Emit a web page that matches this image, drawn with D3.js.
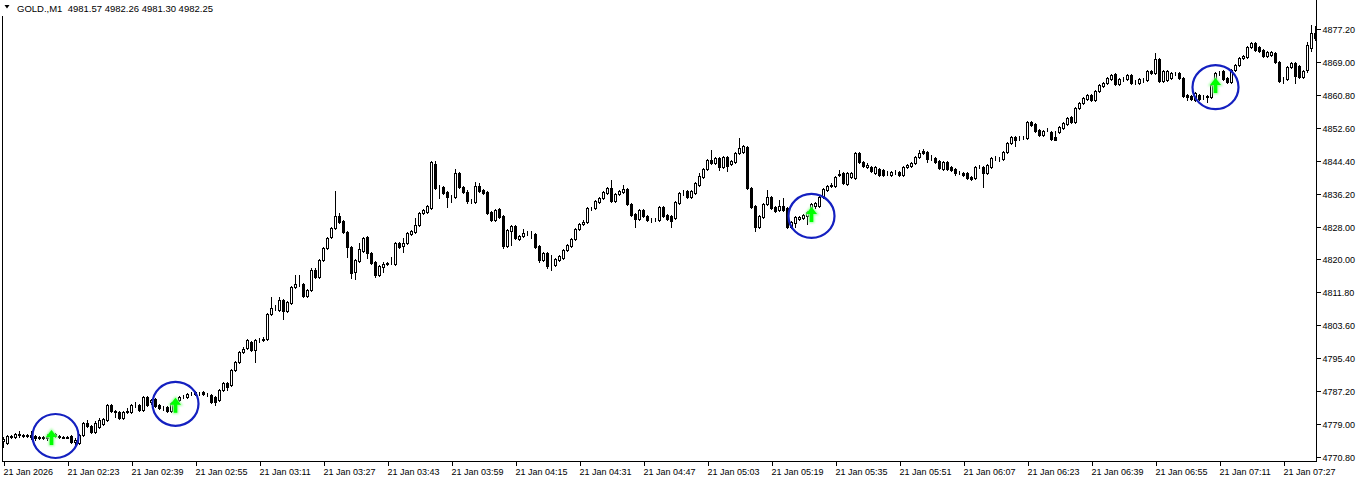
<!DOCTYPE html>
<html>
<head>
<meta charset="utf-8">
<script src="https://cdn.jsdelivr.net/npm/d3@7"></script>
<style>
  html, body { margin: 0; padding: 0; background: #fff; }
  svg { display: block; }
  text { font-family: "Liberation Sans", Arial, sans-serif; font-size: 9px; fill: #000; }
</style>
</head>
<body>
<svg id="chart" width="1362" height="481"></svg>
<script>
// header of the chart window
const symbolTitle = "GOLD.,M1";
const lastQuote = ["4981.57", "4982.26", "4981.30", "4982.25"];

// one label every 16 bars, starting at the first bar (02:07)
const timeLabels = ["21 Jan 2026", "21 Jan 02:23", "21 Jan 02:39", "21 Jan 02:55", "21 Jan 03:11",
  "21 Jan 03:27", "21 Jan 03:43", "21 Jan 03:59", "21 Jan 04:15", "21 Jan 04:31", "21 Jan 04:47",
  "21 Jan 05:03", "21 Jan 05:19", "21 Jan 05:35", "21 Jan 05:51", "21 Jan 06:07", "21 Jan 06:23",
  "21 Jan 06:39", "21 Jan 06:55", "21 Jan 07:11", "21 Jan 07:27"];

const priceTicks = [4877.20, 4869.00, 4860.80, 4852.60, 4844.40, 4836.20, 4828.00,
  4820.00, 4811.80, 4803.60, 4795.40, 4787.20, 4779.00, 4770.80];

// M1 bars, 02:07 .. 07:35
const opens = [
  4774.9,4774.4,4776.1,4775.9,4776.6,4776.4,4776.1,4776.4,4776.1,4775.6,
  4775.9,4775.6,4775.9,4776.6,4776.1,4775.9,4775.6,4776.1,4774.6,4774.4,
  4776.4,4779.4,4778.6,4777.1,4778.4,4779.1,4780.1,4783.9,4782.3,4782.1,
  4780.6,4782.1,4782.1,4783.9,4783.9,4782.6,4785.8,4784.6,4785.3,4783.9,
  4783.1,4783.3,4782.3,4784.3,4785.1,4785.8,4785.8,4786.6,4787.1,4786.8,
  4787.1,4786.6,4786.3,4785.8,4785.1,4787.5,4789.3,4788.8,4792.5,4794.5,
  4797.0,4798.0,4799.5,4797.5,4800.0,4800.0,4800.2,4806.4,4807.9,4807.4,
  4809.9,4807.2,4809.2,4813.1,4813.9,4813.9,4810.9,4812.4,4817.4,4815.6,
  4819.8,4822.8,
  4825.6,4827.8,4830.8,4829.5,4826.8,4823.1,4816.9,4819.6,
  4822.1,4825.6,4821.6,4819.3,4816.1,4818.1,4818.8,4819.1,4818.8,4824.1,
  4823.3,4824.1,4826.3,4826.8,4828.5,4831.5,4831.8,4832.8,4843.7,4838.0,
  4838.0,4836.8,4835.5,4835.5,4841.5,4838.0,4836.8,4834.5,4834.3,4838.2,
  4837.2,4836.8,4831.8,4829.8,4832.5,4830.8,4823.3,4827.1,4828.3,4825.1,
  4825.8,4826.6,4826.3,4826.3,4823.3,4819.8,4821.6,4818.6,4818.6,4819.8,
  4820.3,4822.3,4823.3,4825.1,4827.6,4828.8,4829.3,4832.8,4832.8,4834.3,
  4835.3,4836.5,4837.7,4834.5,4836.3,4836.8,4837.5,4833.8,4831.3,4830.0,
  4832.3,4830.8,4830.0,4830.0,4829.8,
  4833.0,4831.0,4830.8,4830.3,4834.0,
  4836.5,4837.0,4835.5,4836.5,4838.5,4840.5,4842.5,4844.7,4844.0,4845.2,
  4843.0,4845.5,4843.7,4844.2,4846.5,4846.7,4847.9,4837.7,4833.3,4828.1,
  4830.5,4833.8,4835.5,4833.0,4832.3,4833.3,4832.8,4828.1,4829.0,4830.0,
  4830.3,4830.8,4831.5,4833.3,4833.3,4835.5,4837.2,4838.2,4838.2,4841.0,
  4841.5,4838.7,4840.5,4840.2,4846.5,4844.2,4843.0,4843.0,4841.5,4842.5,
  4842.3,4841.5,4841.0,4841.7,4841.7,4841.0,4843.0,4843.2,4844.0,4845.5,
  4847.0,4846.7,4845.2,4845.2,4844.5,4842.5,4844.2,4843.0,4842.5,4841.5,
  4841.5,4841.5,4840.5,4840.2,4843.0,4843.0,4841.5,
  4843.0,4845.2,4845.0,
  4845.0,4846.7,4848.9,4850.4,4850.2,4850.2,4850.2,4854.1,4853.6,4852.2,
  4850.9,4852.2,4851.7,4850.4,4851.7,4852.6,4853.6,4855.4,4854.1,4857.6,
  4858.9,4859.9,4860.9,4859.6,4861.9,4863.1,4863.8,4864.8,4866.1,4863.6,
  4864.8,4864.8,4865.8,4864.1,4863.8,4864.6,4864.6,4866.8,4866.3,4869.8,
  4864.3,4864.6,4865.1,4866.3,4866.3,4865.1,4860.9,4860.6,4859.6,4860.9,
  4860.4,4860.6,4860.4,4863.3,4866.3,4866.8,4865.1,4864.1,4867.1,4868.3,
  4870.1,4870.3,4872.8,4873.8,4872.8,4872.0,4870.6,4870.8,4871.3,4869.1,
  4864.8,4864.8,4867.8,4868.8,4868.1,4865.3,4867.1,4872.5,4876.3
];
const highs = [
  4775.9,4776.4,4776.4,4776.9,4777.4,4776.6,4776.6,4777.4,4776.4,4776.1,
  4776.1,4776.6,4776.6,4776.9,4776.4,4776.1,4776.1,4776.4,4775.6,4776.6,
  4779.6,4780.1,4778.9,4779.9,4780.6,4780.6,4784.1,4784.1,4782.6,4782.3,
  4782.3,4783.1,4784.1,4784.6,4784.1,4786.1,4786.1,4785.3,4785.6,4784.1,
  4783.6,4783.6,4784.6,4785.3,4786.1,4786.3,4786.8,4787.1,4787.3,4787.1,
  4787.3,4786.8,4786.6,4786.1,4787.8,4789.5,4789.5,4792.8,4794.7,4797.2,
  4798.2,4800.2,4799.7,4800.2,4800.5,4800.7,4806.7,4810.6,4808.7,4810.6,
  4810.1,4809.7,4813.4,4816.1,4816.1,4814.1,4812.6,4817.8,4817.8,4820.1,
  4823.1,4825.6,
  4828.1,4837.0,4831.5,4829.8,4827.1,4823.3,4820.1,4824.1,
  4825.6,4825.8,4821.8,4819.6,4818.6,4819.3,4819.3,4820.6,4824.3,4824.3,
  4825.3,4826.8,4827.3,4830.3,4831.8,4832.5,4833.5,4844.5,4844.5,4838.5,
  4838.2,4837.0,4836.0,4842.5,4841.7,4838.2,4837.2,4835.0,4839.2,4839.0,
  4837.5,4837.0,4832.0,4832.5,4832.8,4831.0,4827.6,4828.5,4828.5,4826.1,
  4827.6,4827.1,4827.1,4826.6,4823.6,4821.8,4821.8,4821.1,4820.3,4821.1,
  4822.6,4823.8,4825.3,4827.8,4829.0,4829.8,4833.0,4833.0,4834.8,4835.5,
  4837.0,4838.0,4839.7,4836.5,4837.2,4838.5,4837.7,4834.0,4831.5,4832.5,
  4832.5,4831.0,4830.3,4830.3,4833.3,
  4833.3,4831.3,4831.0,4834.5,4836.8,
  4837.2,4837.2,4837.2,4839.2,4841.5,4842.7,4845.0,4847.2,4845.5,4845.5,
  4845.7,4845.7,4844.7,4846.7,4850.2,4848.4,4848.2,4838.0,4833.5,4831.0,
  4834.0,4837.2,4835.8,4833.3,4834.8,4835.3,4833.0,4829.5,4830.8,4830.8,
  4831.3,4832.0,4834.0,4834.3,4835.8,4837.7,4838.5,4839.0,4840.7,4842.3,
  4841.7,4841.7,4841.7,4846.7,4846.7,4844.5,4844.0,4843.2,4843.2,4842.7,
  4842.5,4842.0,4842.0,4842.3,4842.0,4843.2,4843.7,4844.2,4845.7,4847.2,
  4847.4,4847.0,4846.0,4845.5,4844.7,4844.5,4844.5,4843.2,4842.7,4842.0,
  4841.7,4841.7,4840.7,4843.2,4843.5,4843.2,4843.7,
  4845.5,4845.7,4845.5,
  4847.0,4849.2,4850.7,4850.7,4850.7,4850.7,4854.4,4854.4,4853.9,4852.4,
  4852.2,4852.6,4851.9,4851.9,4853.1,4854.1,4855.4,4855.6,4857.9,4859.1,
  4860.4,4861.1,4861.1,4862.1,4863.6,4864.1,4865.3,4866.1,4866.3,4865.1,
  4865.3,4866.1,4866.1,4864.6,4865.1,4865.1,4867.1,4867.1,4871.3,4870.1,
  4867.1,4867.1,4866.6,4866.6,4866.6,4865.3,4861.1,4860.9,4861.6,4861.1,
  4860.9,4860.9,4863.6,4866.6,4866.8,4867.1,4865.3,4867.3,4868.6,4870.3,
  4870.8,4873.0,4874.0,4874.0,4873.0,4872.3,4871.8,4871.8,4871.6,4869.3,
  4865.3,4868.1,4869.1,4869.1,4868.3,4867.1,4874.0,4878.3,4878.0
];
const lows = [
  4773.4,4774.1,4775.6,4775.6,4775.9,4775.9,4775.9,4775.4,4775.1,4775.4,
  4775.4,4775.1,4775.4,4775.9,4775.6,4775.6,4775.6,4774.4,4773.9,4774.1,
  4776.1,4778.4,4776.9,4776.9,4778.1,4778.9,4779.9,4782.1,4780.8,4780.4,
  4780.4,4781.8,4781.8,4783.3,4782.3,4782.3,4783.6,4784.1,4783.3,4782.8,
  4782.6,4782.1,4782.1,4784.1,4784.8,4785.6,4785.6,4786.3,4786.3,4786.3,
  4786.3,4786.1,4784.3,4783.9,4784.8,4787.3,4787.5,4788.5,4792.3,4794.2,
  4796.7,4797.7,4797.2,4794.5,4799.5,4799.7,4800.0,4806.2,4807.4,4807.2,
  4805.2,4807.0,4808.9,4812.9,4813.4,4810.6,4810.6,4812.1,4815.4,4815.4,
  4819.6,4822.6,
  4825.3,4827.6,4829.0,4826.6,4820.6,4815.4,4815.1,4819.3,
  4821.8,4820.3,4818.8,4815.6,4815.9,4816.9,4818.6,4818.8,4818.6,4822.8,
  4821.8,4823.8,4826.1,4826.6,4828.3,4831.3,4831.5,4832.5,4837.5,4835.3,
  4836.3,4833.0,4834.3,4835.3,4837.7,4836.5,4834.0,4834.0,4834.0,4836.8,
  4836.3,4831.3,4829.5,4829.5,4830.3,4822.8,4823.1,4823.6,4825.1,4824.8,
  4825.6,4826.1,4825.3,4822.8,4819.3,4819.6,4817.8,4817.4,4818.3,4819.6,
  4820.1,4822.1,4823.1,4824.8,4827.3,4828.5,4829.0,4832.3,4832.5,4834.0,
  4835.0,4836.3,4834.3,4834.3,4836.0,4836.5,4833.5,4830.8,4828.1,4829.8,
  4830.5,4829.5,4829.3,4829.5,4829.5,
  4830.5,4829.8,4828.1,4830.0,4833.8,
  4836.0,4835.3,4835.3,4836.3,4838.2,4840.2,4842.3,4843.7,4843.7,4842.3,
  4842.7,4842.0,4843.5,4844.0,4846.2,4846.5,4837.5,4832.8,4827.1,4827.8,
  4830.3,4833.5,4832.5,4831.8,4832.0,4832.0,4827.8,4827.8,4828.1,4829.8,
  4830.0,4828.8,4831.3,4832.8,4833.0,4835.3,4837.0,4838.0,4838.0,4840.7,
  4838.7,4838.5,4840.2,4840.0,4844.0,4843.0,4842.7,4841.7,4841.2,4840.7,
  4840.7,4841.0,4840.7,4841.2,4840.7,4840.7,4842.7,4843.0,4843.7,4845.2,
  4846.2,4844.2,4844.7,4844.0,4842.5,4842.3,4842.3,4842.0,4841.0,4841.2,
  4840.7,4840.0,4839.7,4840.0,4842.7,4838.0,4841.2,
  4842.7,4844.7,4844.5,
  4844.7,4846.5,4848.7,4848.2,4849.7,4849.9,4849.9,4853.1,4851.7,4850.7,
  4850.7,4851.9,4849.7,4849.7,4851.4,4852.4,4853.4,4853.9,4853.9,4857.4,
  4858.6,4859.6,4859.4,4859.4,4861.6,4862.8,4863.6,4864.6,4863.3,4863.3,
  4864.3,4864.6,4863.6,4863.6,4863.6,4864.1,4864.3,4866.1,4866.1,4864.1,
  4864.1,4864.3,4864.8,4865.8,4864.8,4860.4,4859.6,4859.6,4859.4,4859.6,
  4859.9,4859.1,4860.1,4863.1,4865.8,4864.6,4863.8,4863.8,4866.8,4868.1,
  4869.8,4870.1,4872.5,4871.8,4871.6,4870.3,4870.3,4870.6,4868.8,4864.1,
  4863.8,4864.6,4867.6,4863.8,4865.1,4865.1,4866.6,4871.8,4874.6
];
const closes = [
  4775.4,4776.1,4775.9,4776.6,4776.4,4776.1,4776.4,4775.9,4775.6,4775.9,
  4775.6,4775.9,4776.1,4776.1,4775.9,4775.6,4775.9,4774.6,4775.1,4776.4,
  4779.4,4778.6,4777.1,4779.4,4780.1,4780.4,4783.9,4782.3,4782.1,4780.6,
  4782.1,4782.3,4783.9,4783.9,4782.6,4785.8,4783.9,4785.1,4783.6,4783.1,
  4783.1,4782.3,4784.3,4785.1,4785.8,4785.8,4786.6,4786.6,4786.6,4786.8,
  4786.6,4786.6,4784.6,4784.6,4787.5,4789.3,4788.3,4792.5,4794.5,4797.0,
  4797.7,4800.0,4797.5,4800.0,4800.0,4800.2,4806.4,4807.9,4807.9,4809.9,
  4807.2,4809.4,4813.1,4813.9,4813.9,4810.9,4812.4,4817.4,4815.6,4819.8,
  4822.8,4825.3,
  4827.8,4830.8,4829.3,4826.8,4823.1,4816.6,4819.8,4822.6,
  4825.3,4821.6,4819.1,4816.1,4818.3,4818.8,4819.1,4819.1,4824.1,4823.1,
  4824.1,4826.6,4827.1,4828.5,4831.5,4832.3,4833.3,4844.2,4837.7,4838.0,
  4836.5,4835.5,4835.5,4841.5,4838.0,4836.8,4834.5,4834.5,4838.2,4837.0,
  4836.5,4831.5,4829.8,4832.3,4830.5,4823.3,4827.3,4828.3,4825.3,4825.8,
  4826.6,4826.6,4826.3,4823.1,4819.8,4821.6,4818.3,4818.6,4820.1,4820.8,
  4822.3,4823.6,4825.1,4827.6,4828.8,4829.3,4832.8,4832.8,4834.5,4835.3,
  4836.8,4837.7,4834.5,4836.3,4837.0,4837.5,4833.8,4831.0,4830.0,4832.3,
  4830.8,4829.8,4830.0,4830.0,4833.0,
  4830.8,4830.0,4829.5,4834.3,4836.5,
  4836.5,4835.5,4837.0,4839.0,4840.7,4842.5,4844.7,4844.0,4845.2,4843.0,
  4845.5,4843.2,4844.5,4846.5,4847.7,4848.2,4837.7,4833.0,4828.1,4830.8,
  4833.8,4835.5,4832.8,4832.0,4833.3,4832.3,4828.1,4829.3,4830.5,4830.5,
  4831.0,4831.8,4833.8,4834.0,4835.5,4837.5,4838.2,4838.5,4840.5,4841.2,
  4839.0,4841.5,4841.5,4846.5,4844.2,4843.2,4843.5,4842.0,4843.0,4841.0,
  4841.0,4841.5,4841.7,4841.7,4841.0,4843.0,4843.5,4844.0,4845.5,4846.5,
  4846.5,4845.0,4845.2,4844.2,4842.7,4844.2,4842.5,4842.3,4841.5,4841.5,
  4841.0,4840.2,4840.0,4843.0,4843.0,4841.5,4843.5,
  4845.2,4845.2,4845.0,
  4846.7,4848.9,4850.4,4849.7,4850.2,4850.2,4854.1,4853.4,4851.9,4850.9,
  4851.9,4852.2,4849.9,4849.7,4852.9,4853.9,4855.1,4854.1,4857.6,4858.9,
  4860.1,4860.9,4859.6,4861.9,4863.3,4863.8,4865.1,4865.8,4863.6,4864.8,
  4864.8,4865.8,4863.8,4864.1,4864.8,4864.6,4866.8,4866.3,4869.8,4864.3,
  4866.8,4866.8,4866.3,4866.3,4865.1,4860.6,4860.4,4859.9,4861.4,4859.9,
  4860.4,4860.4,4863.3,4866.3,4866.3,4864.8,4864.1,4867.1,4868.3,4870.1,
  4870.6,4872.8,4873.8,4872.0,4871.8,4870.6,4871.6,4871.6,4869.1,4864.3,
  4864.8,4867.8,4868.8,4865.6,4865.3,4866.8,4873.3,4876.3,4875.0
];

// buy signals (arrow tip price) and the hand drawn rings around them
const signalBars = [12, 43, 202, 303];
const signalPrices = [4777.6, 4785.6, 4833.0, 4865.1];
const ringBars = [13, 43, 202, 303];
const ringPrices = [4776.1, 4784.1, 4830.8, 4862.8];

const svg = d3.select("#chart");
const plotLeft = 2, plotRight = 1316, plotBottom = 461;

const x = d3.scaleLinear().domain([0, opens.length - 1]).range([3, 1315]);
const y = d3.scaleLinear().domain([4770.8, 4877.2]).range([457.3, 29.3]);

svg.append("defs").append("clipPath").attr("id", "plotClip")
  .append("rect").attr("x", plotLeft + 1).attr("y", 0)
  .attr("width", plotRight - plotLeft - 1).attr("height", plotBottom);

const glow = svg.select("defs").append("filter").attr("id", "glow")
  .attr("x", "-50%").attr("y", "-50%").attr("width", "200%").attr("height", "200%");
glow.append("feGaussianBlur").attr("stdDeviation", 1.1);

const bars = d3.range(opens.length).map(i => ({
  i: i, o: opens[i], h: highs[i], l: lows[i], c: closes[i]
}));

const g = svg.append("g").attr("clip-path", "url(#plotClip)").attr("shape-rendering", "crispEdges");

// wicks
g.selectAll("line.wick").data(bars).enter().append("line")
  .attr("class", "wick")
  .attr("x1", d => Math.round(x(d.i)) + 0.5)
  .attr("x2", d => Math.round(x(d.i)) + 0.5)
  .attr("y1", d => Math.round(y(d.h)))
  .attr("y2", d => Math.round(y(d.l)) + 1)
  .attr("stroke", "#000").attr("stroke-width", 1);

// bodies
g.selectAll("rect.body").data(bars).enter().append("rect")
  .attr("class", "body")
  .each(function (d) {
    const cx = Math.round(x(d.i));
    const top = Math.round(y(Math.max(d.o, d.c)));
    const bot = Math.round(y(Math.min(d.o, d.c)));
    const r = d3.select(this);
    if (d.c >= d.o) {
      // bull: white body, black outline
      r.attr("x", cx - 0.5).attr("y", top + 0.5).attr("width", 2).attr("height", Math.max(0, bot - top))
        .attr("fill", "#fff").attr("stroke", "#000").attr("stroke-width", 1);
    } else {
      r.attr("x", cx - 1).attr("y", top).attr("width", 3).attr("height", bot - top + 1)
        .attr("fill", "#000");
    }
  });

// signal arrows
const arrowPath = "M0,0 L-5.5,7 L-1.8,7 L-1.8,15 L1.8,15 L1.8,7 L5.5,7 Z";
const arrows = svg.append("g");
signalBars.forEach((b, k) => {
  const ax = Math.round(x(b)) + 0.5, ay = y(signalPrices[k]);
  arrows.append("path").attr("d", arrowPath)
    .attr("transform", `translate(${ax},${ay})`)
    .attr("fill", "#7dff7d").attr("stroke", "#9cff9c").attr("stroke-width", 2)
    .attr("filter", "url(#glow)");
  arrows.append("path").attr("d", arrowPath)
    .attr("transform", `translate(${ax},${ay})`)
    .attr("fill", "#00ff00");
});

// rings
svg.append("g").selectAll("ellipse").data(ringBars).enter().append("ellipse")
  .attr("cx", d => x(d) + 0.5)
  .attr("cy", (d, k) => y(ringPrices[k]))
  .attr("rx", 23).attr("ry", 22)
  .attr("fill", "none").attr("stroke", "#1420c0").attr("stroke-width", 2.2);

// frame
const frame = svg.append("g").attr("shape-rendering", "crispEdges").attr("stroke", "#000");
frame.append("line").attr("x1", plotLeft + 0.5).attr("x2", plotLeft + 0.5).attr("y1", 16).attr("y2", plotBottom + 1);
frame.append("line").attr("x1", plotLeft).attr("x2", plotRight + 1).attr("y1", plotBottom + 0.5).attr("y2", plotBottom + 0.5);
frame.append("line").attr("x1", plotRight + 0.5).attr("x2", plotRight + 0.5).attr("y1", 0).attr("y2", plotBottom + 1);

// price axis
const yAxis = d3.axisRight(y).tickValues(priceTicks).tickSize(4).tickPadding(2)
  .tickFormat(d3.format(".2f"));
const yg = svg.append("g").attr("transform", `translate(${plotRight + 0.5},0)`).call(yAxis);
yg.select(".domain").remove();
yg.selectAll("line").attr("stroke", "#000").attr("shape-rendering", "crispEdges");
yg.selectAll("text").attr("font-family", null).attr("font-size", null).attr("fill", "#000");

// time axis
const xAxis = d3.axisBottom(x).tickValues(d3.range(0, opens.length, 16)).tickSize(4).tickPadding(3)
  .tickFormat((d, k) => timeLabels[k]);
const xg = svg.append("g").attr("transform", `translate(0.5,${plotBottom + 0.5})`).call(xAxis);
xg.select(".domain").remove();
xg.selectAll("line").attr("stroke", "#000").attr("shape-rendering", "crispEdges");
xg.selectAll("text").attr("font-family", null).attr("font-size", null).attr("fill", "#000")
  .attr("text-anchor", "start").attr("x", -0.5);

// title
svg.append("rect").attr("x", 3).attr("y", 0).attr("width", 215).attr("height", 16).attr("fill", "#fff");
svg.append("path").attr("d", "M4.5,5 L9.5,5 L7,8.5 Z").attr("fill", "#000");
svg.append("text").attr("x", 17).attr("y", 12).style("white-space", "pre").style("font-size", "9.5px")
  .text(symbolTitle + "  " + lastQuote.join(" "));
</script>
</body>
</html>
